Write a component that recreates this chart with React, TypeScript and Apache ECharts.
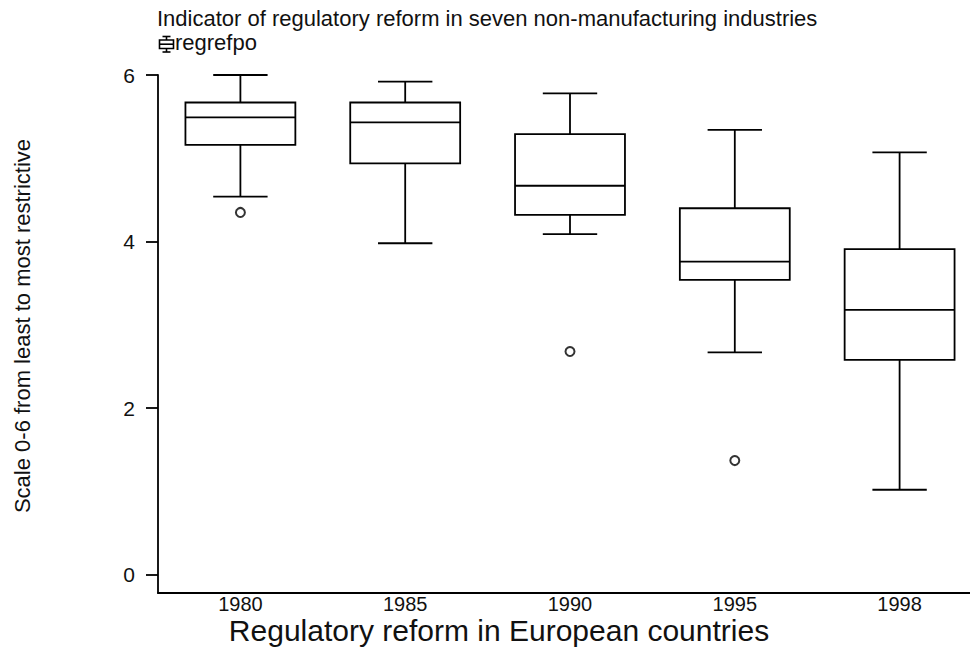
import React, { useEffect, useRef } from "react";
import * as echarts from "echarts";

const categories = ["1980", "1985", "1990", "1995", "1998"];
const lowerWhisker = [4.54, 3.98, 4.09, 2.67, 1.02];
const q1 = [5.16, 4.94, 4.32, 3.54, 2.58];
const median = [5.49, 5.43, 4.67, 3.76, 3.18];
const q3 = [5.67, 5.67, 5.29, 4.4, 3.91];
const upperWhisker = [6.0, 5.92, 5.78, 5.34, 5.07];
const outlierCategories = ["1980", "1990", "1995"];
const outlierValues = [4.35, 2.68, 1.37];
const yTicks = [0, 2, 4, 6];

const titleText = "Indicator of regulatory reform in seven non-manufacturing industries";
const legendText = "regrefpo";
const yName = "Scale 0-6 from least to most restrictive";
const xName = "Regulatory reform in European countries";

const FONT = "'Liberation Sans', Arial, Helvetica, sans-serif";
const INK = "#111";

export default function App() {
  const ref = useRef<HTMLDivElement>(null);
  useEffect(() => {
    if (!ref.current) return;
    const chart = echarts.init(ref.current, undefined, { renderer: "svg" });
    const boxData = categories.map((_, i) => [
      i,
      lowerWhisker[i],
      q1[i],
      median[i],
      q3[i],
      upperWhisker[i],
    ]);
    const outlierData = outlierCategories.map((c, i) => [categories.indexOf(c), outlierValues[i]]);
    const lineStyle = { stroke: "#000", lineWidth: 1.8, fill: "none" };
    chart.setOption({
      animation: false,
      backgroundColor: "#fff",
      textStyle: { fontFamily: FONT },
      grid: { left: 158, top: 75, bottom: 55, width: 824, outerBoundsMode: "none", containLabel: false },
      xAxis: {
        type: "category",
        data: categories,
        boundaryGap: true,
        axisLine: { show: true, onZero: false, lineStyle: { color: "#000", width: 1.8 } },
        axisTick: { show: false },
        axisLabel: { fontSize: 20, lineHeight: 20, color: INK, margin: 1, fontFamily: FONT },
        splitLine: { show: false },
      },
      yAxis: {
        type: "value",
        min: -0.22,
        max: 6,
        axisLine: { show: true, lineStyle: { color: "#000", width: 1.8 } },
        axisTick: {
          show: true,
          length: 12,
          customValues: yTicks,
          lineStyle: { color: "#000", width: 1.8 },
        },
        axisLabel: {
          fontSize: 21,
          color: INK,
          margin: 23,
          fontFamily: FONT,
          customValues: yTicks,
        },
        splitLine: { show: false },
      },
      series: [
        {
          type: "custom",
          name: legendText,
          data: boxData,
          encode: { x: 0, y: [1, 2, 3, 4, 5] },
          renderItem: (params: any, api: any) => {
            const idx = api.value(0);
            const pLo = api.coord([idx, api.value(1)]);
            const pQ1 = api.coord([idx, api.value(2)]);
            const pMed = api.coord([idx, api.value(3)]);
            const pQ3 = api.coord([idx, api.value(4)]);
            const pHi = api.coord([idx, api.value(5)]);
            const band = api.size([1, 0])[0];
            const bw = band * 0.667;
            const cw = band * 0.33;
            const cx = pLo[0];
            return {
              type: "group",
              children: [
                { type: "line", shape: { x1: cx - cw / 2, y1: pHi[1], x2: cx + cw / 2, y2: pHi[1] }, style: lineStyle },
                { type: "line", shape: { x1: cx, y1: pHi[1], x2: cx, y2: pQ3[1] }, style: lineStyle },
                {
                  type: "rect",
                  shape: { x: cx - bw / 2, y: pQ3[1], width: bw, height: pQ1[1] - pQ3[1] },
                  style: lineStyle,
                },
                { type: "line", shape: { x1: cx - bw / 2, y1: pMed[1], x2: cx + bw / 2, y2: pMed[1] }, style: lineStyle },
                { type: "line", shape: { x1: cx, y1: pQ1[1], x2: cx, y2: pLo[1] }, style: lineStyle },
                { type: "line", shape: { x1: cx - cw / 2, y1: pLo[1], x2: cx + cw / 2, y2: pLo[1] }, style: lineStyle },
              ],
            };
          },
        },
        {
          type: "scatter",
          data: outlierData,
          symbol: "circle",
          symbolSize: 9,
          itemStyle: { color: "#fff", borderColor: "#000", borderWidth: 2 },
        },
      ],
      graphic: [
        {
          type: "text",
          left: 157,
          top: 7,
          style: { text: titleText, font: `22px ${FONT}`, fill: INK },
        },
        {
          type: "group",
          left: 157,
          top: 34,
          children: [
            { type: "line", shape: { x1: 4, y1: 1, x2: 12, y2: 1 }, style: { stroke: "#000", lineWidth: 1.6 } },
            { type: "line", shape: { x1: 8, y1: 1, x2: 8, y2: 4.5 }, style: { stroke: "#000", lineWidth: 1.6 } },
            { type: "rect", shape: { x: 1, y: 4.5, width: 14, height: 8.5 }, style: { stroke: "#000", lineWidth: 1.6, fill: "none" } },
            { type: "line", shape: { x1: 1, y1: 8.7, x2: 15, y2: 8.7 }, style: { stroke: "#000", lineWidth: 1.6 } },
            { type: "line", shape: { x1: 8, y1: 13, x2: 8, y2: 16.5 }, style: { stroke: "#000", lineWidth: 1.6 } },
            { type: "line", shape: { x1: 4, y1: 16.5, x2: 12, y2: 16.5 }, style: { stroke: "#000", lineWidth: 1.6 } },
          ],
        },
        {
          type: "text",
          left: 175,
          top: 31,
          style: { text: legendText, font: `22px ${FONT}`, fill: INK },
        },
        {
          type: "text",
          x: 22,
          y: 326,
          rotation: Math.PI / 2,
          style: {
            text: yName,
            font: `22px ${FONT}`,
            fill: INK,
            align: "center",
            verticalAlign: "middle",
          },
        },
        {
          type: "text",
          x: 499,
          y: 630,
          style: {
            text: xName,
            font: `30px ${FONT}`,
            lineHeight: 28,
            fill: INK,
            align: "center",
            verticalAlign: "middle",
          },
        },
      ],
    });
    return () => chart.dispose();
  }, []);
  return (
    <div
      ref={ref}
      style={{ position: "fixed", left: 0, top: 0, width: 970, height: 648 }}
    />
  );
}
